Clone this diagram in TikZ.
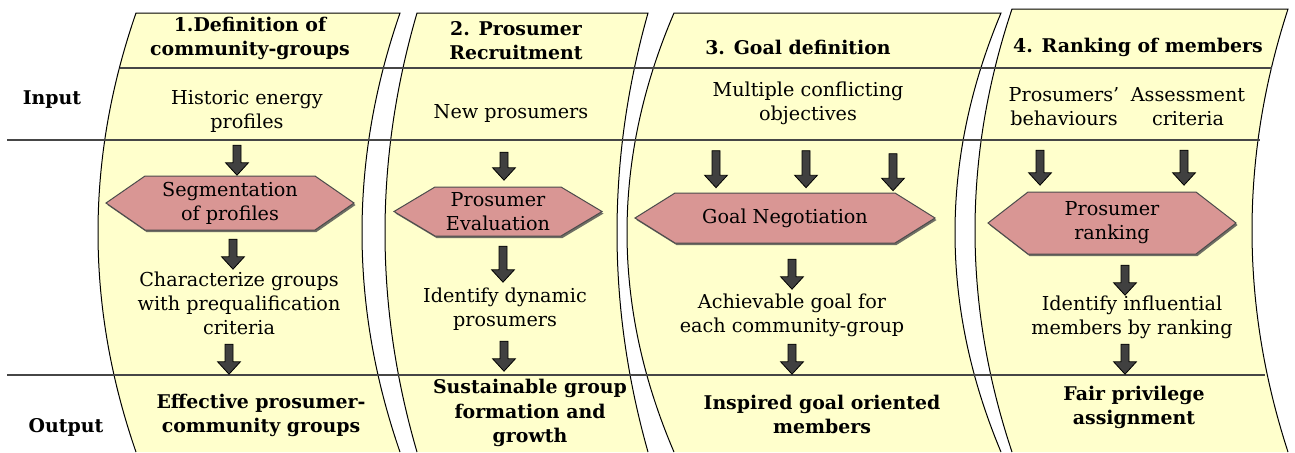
\documentclass[tikz,border=0pt]{standalone}
\usepackage{fontspec}
\setmainfont{DejaVu Serif}
\usetikzlibrary{shapes.arrows}
\definecolor{panelfill}{RGB}{255,255,204}
\definecolor{hexfill}{RGB}{217,150,148}
\definecolor{arrowfill}{RGB}{64,64,64}
\definecolor{rulegray}{RGB}{70,70,70}
\definecolor{shadowgray}{RGB}{110,110,100}
\tikzset{
  panelfillstyle/.style={fill=panelfill},
  paneledge/.style={draw=black, line width=0.5pt},
  rule/.style={draw=rulegray, line width=0.55pt},
  hexstyle/.style={fill=hexfill, draw=black!70, line width=0.5pt},
  hexshadow/.style={fill=shadowgray},
  txt/.style={align=center, inner sep=0pt, font=\fontsize{9.6}{12}\selectfont},
  btxt/.style={align=center, inner sep=0pt, font=\fontsize{9.45}{12.3}\selectfont\bfseries},
  darrow/.style={single arrow, rotate=-90, draw=black, fill=arrowfill, line width=0.4pt,
    inner xsep=0pt, inner ysep=1.8pt, single arrow head extend=3.7pt,
    single arrow tip angle=85, minimum height=#1},
  darrow/.default=15pt
}
% panel edges as parabolas: xLtop xLmid xRtop xRmid ytop ymid
\newcommand\mypanel[6]{%
  \pgfmathsetmacro\yb{2*#6-#5}%
  \pgfmathsetmacro\ya{#5+2/3*(#6-#5)}%
  \pgfmathsetmacro\yc{\yb-2/3*(\yb-#6)}%
  \pgfmathsetmacro\xl{#1+4/3*(#2-#1)}%
  \pgfmathsetmacro\xr{#3+4/3*(#4-#3)}%
  \fill[panelfillstyle] (#1,#5) -- (#3,#5) .. controls (\xr,\ya) and (\xr,\yc) .. (#3,\yb)
     -- (#1,\yb) .. controls (\xl,\yc) and (\xl,\ya) .. (#1,#5) -- cycle;
  \draw[paneledge] (#1,\yb) .. controls (\xl,\yc) and (\xl,\ya) .. (#1,#5) -- (#3,#5)
     .. controls (\xr,\ya) and (\xr,\yc) .. (#3,\yb);
}
% hexagon: cx cy halfwidth halfheight ext
\newcommand\myhex[5]{%
  \fill[hexshadow] ({#1-#3+1.5},{#2+2}) -- ({#1-#3+#5+1.5},{#2-#4+2}) -- ({#1+#3-#5+1.5},{#2-#4+2})
    -- ({#1+#3+1.5},{#2+2}) -- ({#1+#3-#5+1.5},{#2+#4+2}) -- ({#1-#3+#5+1.5},{#2+#4+2}) -- cycle;
  \filldraw[hexstyle] ({#1-#3},#2) -- ({#1-#3+#5},{#2-#4}) -- ({#1+#3-#5},{#2-#4})
    -- ({#1+#3},#2) -- ({#1+#3-#5},{#2+#4}) -- ({#1-#3+#5},{#2+#4}) -- cycle;
}
\begin{document}
\begin{tikzpicture}[x=0.5pt,y=-0.5pt]
\useasboundingbox (0,0) rectangle (1295,452);
\begin{scope}
\clip (0,0) rectangle (1295,452);
\mypanel{136}{98}{400}{362}{13}{232.5}
\mypanel{417}{385}{648}{617}{13}{232.5}
\mypanel{674}{627}{1001}{955}{13}{232.5}
\mypanel{1012}{975}{1288}{1252}{9}{230.5}
\end{scope}

% rules
\draw[rule] (120,68) -- (1272,68);
\draw[rule] (7,140) -- (1260,140);
\draw[rule] (7,375) -- (1265,375);

% row labels
\node[btxt] (lin) at (52,100) {Input};
\node[btxt] (lout) at (66,427) {Output};

% titles
\node[btxt] (t1) at (250,38.5) {1.Definition of\\community-groups};
\node[btxt] (t2) at (516,40.5) {2. Prosumer\\Recruitment};
\node[btxt] (t3) at (798,47) {3. Goal definition};
\node[btxt] (t4) at (1138,47) {4. Ranking of members};

% inputs
\node[txt] (i1) at (247,111) {Historic energy\\profiles};
\node[txt] (i2) at (511,113) {New prosumers};
\node[txt] (i3) at (808,103) {Multiple conflicting\\objectives};
\node[txt] (i4a) at (1064,106.5) {Prosumers'\\behaviours};
\node[txt] (i4b) at (1188,106.5) {Assessment\\criteria};

% hexagons
\myhex{230}{203}{124}{27}{39}
\node[txt] (h1) at (230,203) {Segmentation\\of profiles};
\myhex{498}{211.5}{104}{24.5}{41}
\node[txt] (h2) at (498,211.5) {Prosumer\\Evaluation};
\myhex{785}{218}{150}{25}{40}
\node[txt] (h3) at (785,218) {Goal Negotiation};
\myhex{1112}{223}{124}{31}{40}
\node[txt] (h4) at (1112,223) {Prosumer\\ranking};

% middle texts
\node[txt] (m1) at (239,303.5) {Characterize groups\\with prequalification\\criteria};
\node[txt] (m2) at (505,309) {Identify dynamic\\prosumers};
\node[txt] (m3) at (792,315) {Achievable goal for\\each community-group};
\node[txt] (m4) at (1132,317) {Identify influential\\members by ranking};

% outputs
\node[btxt] (o1) at (261,415.5) {Effective prosumer-\\community groups};
\node[btxt] (o2) at (530,413) {Sustainable group\\formation and\\growth};
\node[btxt] (o3) at (822,414.5) {Inspired goal oriented\\members};
\node[btxt] (o4) at (1134,407.5) {Fair privilege\\assignment};

% arrows
\node[darrow] (a11) at (237,158) {};
\node[darrow] (a12) at (233,252) {};
\node[darrow] (a13) at (229,357) {};
\node[darrow=14pt] (a21) at (504,164) {};
\node[darrow=18pt] (a22) at (503,262) {};
\node[darrow] (a23) at (504,354) {};
\node[darrow=18.5pt] (a31) at (716,167) {};
\node[darrow=18.5pt] (a32) at (806,167) {};
\node[darrow=18.5pt] (a33) at (893,170) {};
\node[darrow] (a34) at (792,272) {};
\node[darrow] (a35) at (792,357) {};
\node[darrow=17.5pt] (a41) at (1040,165.5) {};
\node[darrow=17.5pt] (a42) at (1184,165.5) {};
\node[darrow] (a43) at (1125,278) {};
\node[darrow] (a44) at (1125,357) {};
\end{tikzpicture}
\end{document}
